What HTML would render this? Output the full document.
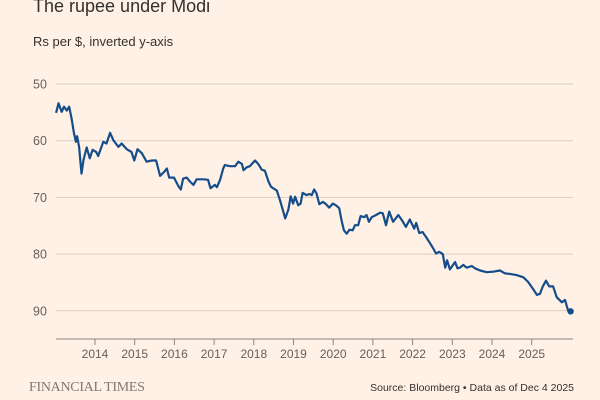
<!DOCTYPE html>
<html><head><meta charset="utf-8">
<style>
html,body{margin:0;padding:0;background:#fff1e5;}
body{width:600px;height:400px;overflow:hidden;position:relative;font-family:"Liberation Sans",sans-serif;}
.t{position:absolute;left:33px;top:-4px;font-size:18px;color:#33302e;}
.s{position:absolute;left:33px;top:34px;font-size:13px;color:#33302e;}
.ft{position:absolute;left:29px;top:380px;font-family:"Liberation Serif",serif;font-size:14px;color:#807973;letter-spacing:-0.3px;}
.src{position:absolute;right:26px;top:382px;font-size:10.5px;color:#33302e;}
svg{position:absolute;left:0;top:0;}
</style></head>
<body>
<div class="t">The rupee under Modi</div>
<div class="s">Rs per $, inverted y-axis</div>
<svg id="chart" width="600" height="400"></svg>
<div class="ft">FINANCIAL TIMES</div>
<div class="src">Source: Bloomberg • Data as of Dec 4 2025</div>
<script>
const yTicks=[50,60,70,80,90];
const xTicks=[2014,2015,2016,2017,2018,2019,2020,2021,2022,2023,2024,2025];
const dates=[2013.02,2013.08,2013.16,2013.22,2013.29,2013.35,2013.41,2013.47,2013.52,2013.55,2013.60,2013.66,2013.71,2013.79,2013.87,2013.94,2014.03,2014.08,2014.21,2014.29,2014.38,2014.46,2014.59,2014.67,2014.80,2014.92,2014.99,2015.07,2015.18,2015.30,2015.43,2015.54,2015.64,2015.74,2015.81,2015.87,2015.99,2016.10,2016.16,2016.22,2016.31,2016.39,2016.48,2016.56,2016.73,2016.85,2016.91,2017.02,2017.07,2017.15,2017.23,2017.27,2017.40,2017.53,2017.61,2017.70,2017.74,2017.82,2017.90,2018.03,2018.11,2018.20,2018.28,2018.37,2018.43,2018.49,2018.58,2018.66,2018.73,2018.79,2018.87,2018.93,2018.99,2019.04,2019.12,2019.18,2019.23,2019.33,2019.40,2019.46,2019.52,2019.58,2019.65,2019.74,2019.82,2019.90,2019.99,2020.07,2020.15,2020.21,2020.27,2020.34,2020.41,2020.49,2020.55,2020.63,2020.69,2020.78,2020.84,2020.90,2020.97,2021.08,2021.18,2021.25,2021.33,2021.41,2021.51,2021.64,2021.73,2021.83,2021.93,2022.04,2022.09,2022.17,2022.25,2022.33,2022.44,2022.52,2022.59,2022.67,2022.76,2022.82,2022.87,2022.94,2023.07,2023.13,2023.19,2023.28,2023.36,2023.49,2023.57,2023.70,2023.87,2024.03,2024.20,2024.33,2024.45,2024.62,2024.79,2024.91,2025.03,2025.13,2025.21,2025.28,2025.36,2025.44,2025.54,2025.63,2025.76,2025.84,2025.92,2025.98];
const rates=[55.1,53.4,54.9,54.0,54.7,54.0,56.1,58.7,60.2,59.2,61.1,65.8,63.4,61.2,63.1,61.6,62.0,62.7,60.2,60.5,58.6,59.9,61.1,60.5,61.5,62.0,63.5,61.5,62.2,63.7,63.5,63.5,66.2,65.5,64.9,66.5,66.5,68.0,68.6,66.7,66.5,67.2,67.8,66.8,66.8,66.9,68.4,67.8,68.2,66.9,64.9,64.3,64.5,64.5,63.7,64.1,65.2,64.7,64.5,63.5,64.1,65.1,65.3,67.2,68.1,68.4,68.8,70.5,72.2,73.7,72.2,69.8,71.1,69.9,71.4,71.1,69.2,69.6,69.4,69.6,68.6,69.3,71.2,70.8,71.2,71.8,71.1,71.4,71.9,74.0,75.8,76.4,75.7,75.8,74.9,74.9,73.3,73.5,73.1,74.3,73.5,73.1,72.7,72.8,74.9,72.5,74.3,73.1,74.0,75.2,73.9,75.5,74.5,76.3,76.1,76.9,78.1,79.0,79.9,79.6,80.0,82.4,81.1,82.7,81.4,82.5,82.4,81.9,82.4,82.1,82.5,82.9,83.2,83.1,82.9,83.4,83.5,83.7,84.1,84.9,86.1,87.2,87.0,85.7,84.7,85.7,85.7,87.6,88.5,88.1,90.0,90.1];
const NS='http://www.w3.org/2000/svg';
const svg=document.getElementById('chart');
const X0=56,X1=573,Y50=84,PU=5.67;
const xs=d=>55.3+(d-2013)*39.7;
const ys=v=>Y50+(v-50)*PU;
function mk(t,a){const e=document.createElementNS(NS,t);for(const k in a)e.setAttribute(k,a[k]);svg.appendChild(e);return e;}
yTicks.forEach(v=>{
  const l=mk('line',{x1:X0,x2:X1,y1:ys(v),y2:ys(v),stroke:'#d9cdc3','stroke-width':1});
  
  
  const t=mk('text',{x:33,y:ys(v)+4.5,'font-size':12.5,fill:'#66605c','font-family':'Liberation Sans, sans-serif'});
  t.textContent=v;
  
  
});
const ax=mk('line',{x1:X0,x2:X1,y1:339,y2:339,stroke:'#8c847d','stroke-width':1});


xTicks.forEach(y=>{
  const tk=mk('line',{x1:xs(y),x2:xs(y),y1:339,y2:345,stroke:'#8c847d','stroke-width':1});
  
  
  const t=mk('text',{x:xs(y),y:358,'font-size':12,fill:'#66605c','text-anchor':'middle','font-family':'Liberation Sans, sans-serif'});
  t.textContent=y;
  
  
});
const d=dates.map((t,i)=>(i?'L':'M')+xs(t).toFixed(1)+','+ys(rates[i]).toFixed(1)).join('');
const p=mk('path',{d:d,fill:'none',stroke:'#154d8a','stroke-width':2.2,'stroke-linejoin':'round'});


const n=dates.length-1;
const c=mk('circle',{cx:xs(dates[n]),cy:ys(rates[n]),r:3.2,fill:'#154d8a'});


</script>
</body></html>
